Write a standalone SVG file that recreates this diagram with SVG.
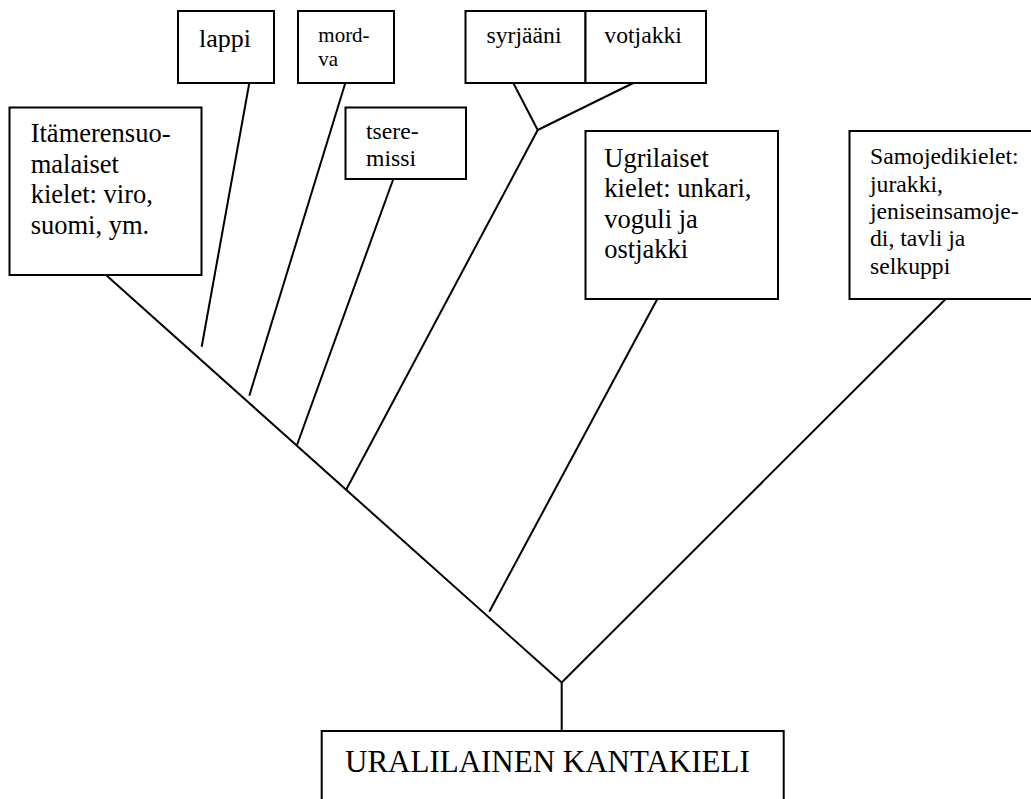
<svg xmlns="http://www.w3.org/2000/svg" width="1031" height="799" viewBox="0 0 1031 799" font-family="'Liberation Serif', Tinos, 'Times New Roman', 'DejaVu Serif', serif">
<style>
.box{fill:#fff;stroke:#000;stroke-width:2}
.ln{fill:none;stroke:#000;stroke-width:2}
text{font-family:'Liberation Serif', Tinos, 'Times New Roman', 'DejaVu Serif', serif;fill:#000}
.t26{font-size:26.5px}
.t24{font-size:23.7px}
.t21{font-size:21px}
.t31{font-size:31px}
</style>
<rect width="1031" height="799" fill="#fff"/>
<g id="connectors">
<line class="ln" x1="106" y1="275" x2="561.7" y2="682.5"/>
<line class="ln" x1="945.7" y1="299" x2="561.7" y2="682.5"/>
<line class="ln" x1="561.7" y1="682.5" x2="561.7" y2="731"/>
<line class="ln" x1="249.3" y1="83" x2="201.7" y2="346.7"/>
<line class="ln" x1="345.3" y1="83" x2="249.3" y2="395.7"/>
<line class="ln" x1="393.3" y1="179" x2="297" y2="445"/>
<line class="ln" x1="513.3" y1="83" x2="537.7" y2="130"/>
<line class="ln" x1="633.3" y1="83" x2="537.7" y2="130"/>
<line class="ln" x1="537.7" y1="130" x2="346" y2="490"/>
<line class="ln" x1="657.3" y1="299" x2="489.3" y2="611.7"/>
</g>
<g id="itameri">
<rect class="box" x="9.5" y="107.5" width="192" height="167.5"/>
<text class="t26" x="30.7" y="142">Itämerensuo-</text>
<text class="t26" x="30.7" y="172.5">malaiset</text>
<text class="t26" x="30.7" y="203">kielet: viro,</text>
<text class="t26" x="30.7" y="233.5">suomi, ym.</text>
</g>
<g id="lappi">
<rect class="box" x="178" y="11" width="96" height="72"/>
<text x="199" y="46.7" style="font-size:26px">lappi</text>
</g>
<g id="mordva">
<rect class="box" x="298" y="11" width="96" height="72"/>
<text class="t21" x="318.3" y="41.7">mord-</text>
<text class="t21" x="318.3" y="65.7">va</text>
</g>
<g id="tseremissi">
<rect class="box" x="345.5" y="107.5" width="120.5" height="71.5"/>
<text class="t24" x="366" y="139.3">tsere-</text>
<text class="t24" x="366" y="165.7">missi</text>
</g>
<g id="syrjaani">
<rect class="box" x="465.5" y="11" width="120" height="72"/>
<text class="t24" x="486.5" y="43.3">syrjääni</text>
</g>
<g id="votjakki">
<rect class="box" x="585.5" y="11" width="120.5" height="72"/>
<text class="t24" x="604.3" y="43.3">votjakki</text>
</g>
<g id="ugrilaiset">
<rect class="box" x="585.5" y="131" width="192.5" height="168"/>
<text class="t26" x="604.3" y="166.7">Ugrilaiset</text>
<text class="t26" x="604.3" y="197.2">kielet: unkari,</text>
<text class="t26" x="604.3" y="227.7">voguli ja</text>
<text class="t26" x="604.3" y="258.2">ostjakki</text>
</g>
<g id="samojedi">
<rect class="box" x="849.5" y="131" width="190" height="168"/>
<text class="t24" x="870" y="164.3">Samojedikielet:</text>
<text class="t24" x="870" y="191.6">jurakki,</text>
<text class="t24" x="870" y="218.9">jeniseinsamoje-</text>
<text class="t24" x="870" y="246.2">di, tavli ja</text>
<text class="t24" x="870" y="273.5">selkuppi</text>
</g>
<g id="kantakieli">
<rect class="box" x="321.7" y="731" width="462" height="80"/>
<text class="t31" x="345" y="771.7">URALILAINEN KANTAKIELI</text>
</g>
</svg>
